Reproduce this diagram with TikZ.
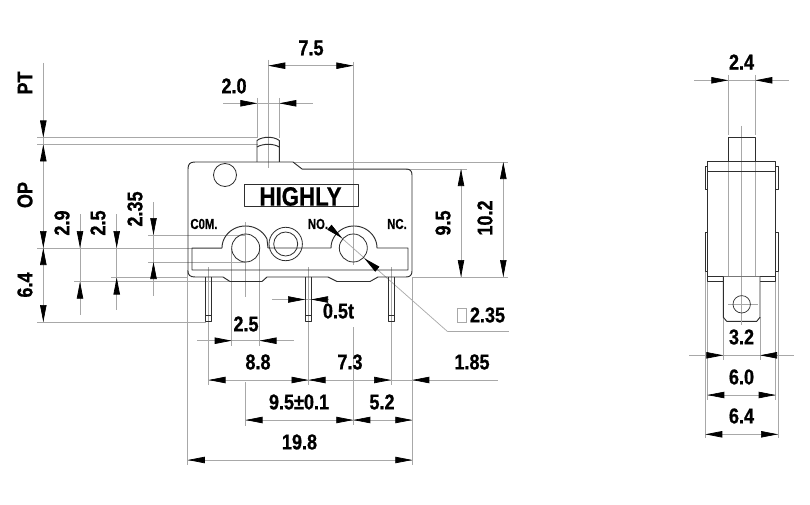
\documentclass[tikz,border=0pt]{standalone}
\usepackage{fontspec}
\setmainfont{Liberation Sans}[FakeStretch=0.84,BoldFeatures={FakeBold=0.7}]
\newfontfamily\narrowfont{Liberation Sans}[FakeStretch=0.78,BoldFeatures={FakeBold=0.5}]
\usetikzlibrary{arrows.meta}
\definecolor{dimgrey}{HTML}{A8A8A8}
\definecolor{outline}{HTML}{2E2E2E}
\tikzset{
  dimline/.style={draw=dimgrey,line width=0.7pt},
  body/.style={draw=outline,line width=0.95pt,line join=round},
  head/.style={draw=dimgrey,line width=0.7pt,-{Triangle[length=17pt,width=6.4pt,black]}},
  dimlabel/.style={inner sep=0pt,font=\bfseries\fontsize{21.5}{23}\selectfont,text=black},
  smalllabel/.style={inner sep=0pt,font=\narrowfont\bfseries\fontsize{14.5}{16}\selectfont,text=black},
  brand/.style={inner sep=0pt,font=\bfseries\fontsize{26.5}{28}\selectfont,text=black},
}
\newcommand{\gl}[2]{\draw[dimline] (#1) -- (#2);}
% base, tip
\newcommand{\ah}[2]{\draw[head] (#1) -- (#2);}
\begin{document}
\begin{tikzpicture}[x=1pt,y=-1pt]
\useasboundingbox[fill=white] (0,0) rectangle (810,505);
% ---------- extension and dimension lines, front view
\gl{37,137.5}{258,137.5}
\gl{37,144.5}{258,144.5}
\gl{43.3,63}{43.3,322}
\gl{37,248}{222,248}
\gl{37,322}{206,322}
\gl{80,214}{80,315}
\gl{74,281.7}{230,281.7}
\gl{116.7,214}{116.7,310}
\gl{111,277.5}{188,277.5}
\gl{153.5,202}{153.5,296}
\gl{148,235}{245.5,235}
\gl{148,262}{245.5,262}
\gl{245.5,222}{245.5,297}
\gl{245.5,382}{245.5,426}
\gl{231.7,248}{231.7,346}
\gl{259.5,248}{259.5,346}
\gl{197,340.7}{294,340.7}
\gl{208.5,267}{208.5,385}
\gl{308.5,267}{308.5,385}
\gl{391,267}{391,385}
\gl{412.3,277}{412.3,465}
\gl{187.8,270}{187.8,465}
\gl{208.5,380}{498,380}
\gl{245.5,420}{412.3,420}
\gl{353.3,62}{353.3,265}
\gl{353.3,327}{353.3,425}
\gl{187.8,460}{412.3,460}
\gl{272,299.5}{328,299.5}
\gl{268.3,60}{268.3,168}
\gl{268.3,65.7}{353.3,65.7}
\gl{223,103.3}{313,103.3}
\gl{257.3,98}{257.3,138}
\gl{279.3,98}{279.3,138}
\gl{461,169}{461,277}
\gl{302,169}{467,169}
\gl{293,162}{508,162}
\gl{503.3,162}{503.3,277}
\gl{412,277.3}{508,277.3}
\gl{330,227.7}{447.7,331.7}
\gl{447.7,331.7}{509,331.7}
% ---------- extension and dimension lines, side view
\gl{741.5,126}{741.5,325}
\gl{728,304.3}{758,304.3}
\gl{728.3,75}{728.3,135}
\gl{755.3,75}{755.3,135}
\gl{728.3,161}{728.3,277}
\gl{755.3,161}{755.3,277}
\gl{694,80.3}{789.3,80.3}
\gl{689,355.3}{794,355.3}
\gl{723.3,317}{723.3,360}
\gl{760,317}{760,360}
\gl{707.3,282}{707.3,400}
\gl{775.7,282}{775.7,400}
\gl{705.3,272}{705.3,438}
\gl{778,272}{778,438}
\gl{707.3,395}{775.7,395}
\gl{705.3,434.3}{778,434.3}
% ---------- switch body, front view
\draw[body] (188,169) .. controls (188,164) and (190,162) .. (195,162)
  -- (293,162) -- (302,169) -- (406,169)
  .. controls (410,169) and (412,171) .. (412,175)
  -- (412,271) .. controls (412,275) and (410,277) .. (406,277)
  -- (378,277) -- (370,281.5) -- (337,281.5) -- (328,277)
  -- (267,277) -- (262,281.5) -- (230,281.5) -- (223,277)
  -- (195,277) .. controls (190,277) and (188,275) .. (188,271) -- cycle;
\draw[body] (257,162) -- (257,140.5) .. controls (260,138) and (265,137.3) .. (268,137.3)
  .. controls (272,137.3) and (276,138) .. (279.3,140.5) -- (279.3,162);
\draw[body] (257,147) .. controls (260,145) and (265,144.3) .. (268,144.3)
  .. controls (272,144.3) and (276,145) .. (279.3,147);
\draw[body] (192,270) -- (192,248) -- (222,248)
  -- plot[domain=180:24,samples=40] ({245.5+23.5*cos(\x)},{248-22*sin(\x)})
  -- (268,248) -- (303,248) -- (331,248)
  -- plot[domain=180:0,samples=40] ({354+23*cos(\x)},{248-22*sin(\x)})
  -- (408,248) -- (408,270) -- cycle;
\draw[body,line width=0.8pt] (225,175) circle[radius=11.5pt];
\draw[body,line width=0.8pt] (245.7,248) circle[radius=14pt];
\draw[body,line width=0.8pt] (285.7,244) circle[radius=16.7pt];
\draw[body,line width=0.8pt] (285.7,244) circle[radius=12pt];
\draw[body,line width=0.8pt] (353.3,248) circle[radius=14pt];
\draw[body] (244,184) rectangle (358,206);
\foreach \cx in {208.7,308.2,391.2}{
  \draw[body,line width=0.8pt] (\cx-3,277) -- (\cx-3,321.7) -- (\cx+3,321.7) -- (\cx+3,277);
  \draw[body,line width=0.6pt] (\cx-3,315) -- (\cx+3,315);
}
\draw[draw=dimgrey,line width=0.7pt] (457.3,308) rectangle (466,322.7);
% ---------- side view
\draw[body] (728.3,161) -- (728.3,137.3) -- (755.3,137.3) -- (755.3,161);
\draw[body] (707.3,161) rectangle (775.7,171.3);
\draw[body] (707.3,171.3) -- (707.3,281.7) -- (775.7,281.7) -- (775.7,171.3);
\draw[body] (707.3,276.7) -- (775.7,276.7);
\draw[body,line width=0.8pt] (707.3,166) -- (705.3,166) -- (705.3,189.3) -- (707.3,189.3);
\draw[body,line width=0.8pt] (707.3,232.3) -- (705.3,232.3) -- (705.3,271.7) -- (707.3,271.7);
\draw[body,line width=0.8pt] (775.7,166) -- (778,166) -- (778,189.3) -- (775.7,189.3);
\draw[body,line width=0.8pt] (775.7,232.3) -- (778,232.3) -- (778,271.7) -- (775.7,271.7);
\draw[body,fill=white] (723.3,276.7) -- (723.3,317.3) -- (726.7,321.3) -- (756.7,321.3) -- (760,317.3) -- (760,276.7);
\gl{741.5,277}{741.5,325}
\gl{728,304.3}{758,304.3}
\draw[body,line width=0.7pt] (741.7,304.3) circle[radius=8.7pt];
% ---------- arrowheads
\ah{43.3,120.5}{43.3,137.5}
\ah{43.3,161.5}{43.3,144.5}
\ah{43.3,231}{43.3,248}
\ah{43.3,265}{43.3,248}
\ah{43.3,305}{43.3,322}
\ah{80,231}{80,248}
\ah{80,298.7}{80,281.7}
\ah{116.7,231}{116.7,248}
\ah{116.7,294.5}{116.7,277.5}
\ah{153.5,218}{153.5,235}
\ah{153.5,279}{153.5,262}
\ah{214.5,340.7}{231.7,340.7}
\ah{276.5,340.7}{259.5,340.7}
\ah{225.5,380}{208.5,380}
\ah{291.5,380}{308.5,380}
\ah{325.5,380}{308.5,380}
\ah{374,380}{391,380}
\ah{429.3,380}{412.3,380}
\ah{262.5,420}{245.5,420}
\ah{336.3,420}{353.3,420}
\ah{370.3,420}{353.3,420}
\ah{395.3,420}{412.3,420}
\ah{204.8,460}{187.8,460}
\ah{395.3,460}{412.3,460}
\ah{288,299.5}{305,299.5}
\ah{328,299.5}{311,299.5}
\ah{285.3,65.7}{268.3,65.7}
\ah{336.3,65.7}{353.3,65.7}
\ah{240.3,103.3}{257.3,103.3}
\ah{296.3,103.3}{279.3,103.3}
\ah{461,186}{461,169}
\ah{461,260}{461,277}
\ah{503.3,179}{503.3,162}
\ah{503.3,260}{503.3,277}
\ah{330,227.7}{342.3,238.3}
\ah{376.7,268.7}{364.3,258.3}
\ah{711.3,80.3}{728.3,80.3}
\ah{772.3,80.3}{755.3,80.3}
\ah{706.3,355.3}{723.3,355.3}
\ah{777,355.3}{760,355.3}
\ah{724.3,395}{707.3,395}
\ah{758.7,395}{775.7,395}
\ah{722.3,434.3}{705.3,434.3}
\ah{761,434.3}{778,434.3}
% ---------- labels
\node[brand] (brandname) at (300.5,196.5) {HIGHLY};
\node[smalllabel] (com) at (204,224) {C0M.};
\node[smalllabel] (no) at (318,224) {NO.};
\node[smalllabel] (nc) at (397,224) {NC.};
\node[dimlabel,rotate=90] (pt) at (25,83) {PT};
\node[dimlabel,rotate=90] (op) at (25,195) {OP};
\node[dimlabel,rotate=90] (d64a) at (25,285) {6.4};
\node[dimlabel,rotate=90] (d29) at (62,223) {2.9};
\node[dimlabel,rotate=90] (d25a) at (98,223) {2.5};
\node[dimlabel,rotate=90] (d235a) at (135,209) {2.35};
\node[dimlabel,rotate=90] (d95) at (443,223) {9.5};
\node[dimlabel,rotate=90] (d102) at (485,218) {10.2};
\node[dimlabel] (d75) at (311,48) {7.5};
\node[dimlabel] (d20) at (234,86) {2.0};
\node[dimlabel] (d05) at (338.5,311) {0.5t};
\node[dimlabel] (d25b) at (246,324) {2.5};
\node[dimlabel] (d88) at (258,362) {8.8};
\node[dimlabel] (d73) at (350,362) {7.3};
\node[dimlabel] (d185) at (472,362) {1.85};
\node[dimlabel] (d95b) at (299,402) {9.5±0.1};
\node[dimlabel] (d52) at (382,402) {5.2};
\node[dimlabel] (d198) at (299.5,442) {19.8};
\node[dimlabel] (d235b) at (487.5,315) {2.35};
\node[dimlabel] (d24) at (741.5,62) {2.4};
\node[dimlabel] (d32) at (741.5,337) {3.2};
\node[dimlabel] (d60) at (741.5,377) {6.0};
\node[dimlabel] (d64b) at (741.5,416) {6.4};
\end{tikzpicture}
\end{document}
